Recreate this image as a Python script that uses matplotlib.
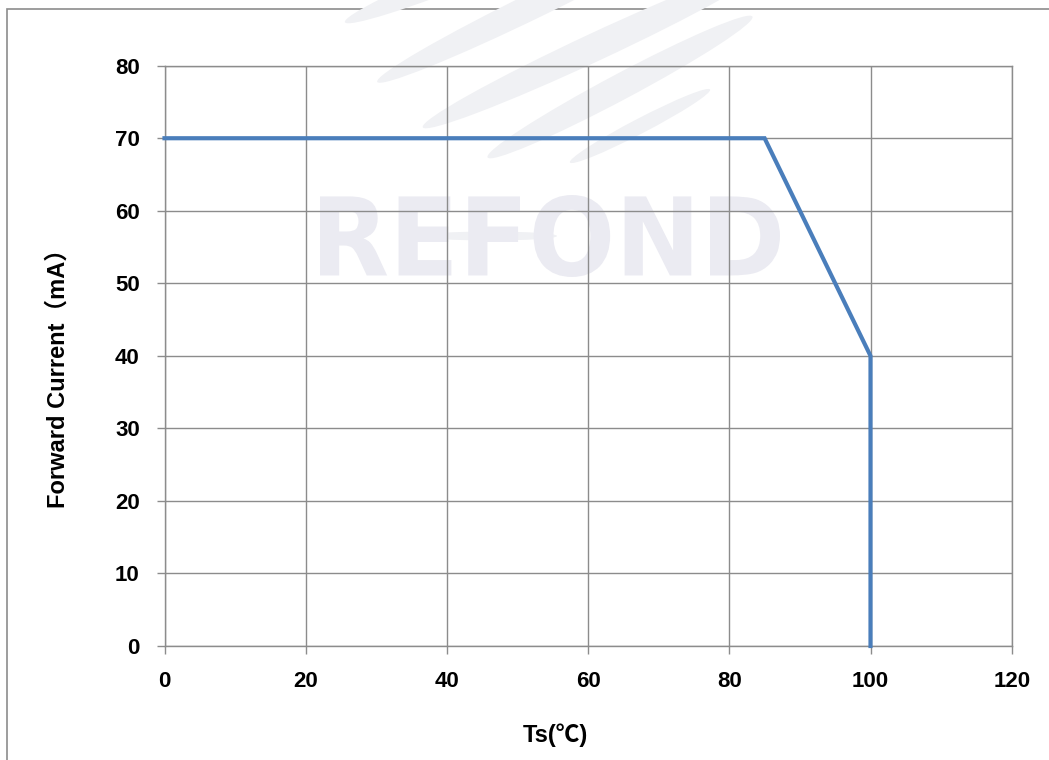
import numpy as np
import matplotlib
matplotlib.use('agg')
import matplotlib.pyplot as plt
from matplotlib.patches import Ellipse, PathPatch, Rectangle
from matplotlib.textpath import TextPath
from matplotlib.font_manager import FontProperties
from matplotlib.transforms import Affine2D

# derating curve data
temps = [0, 85, 100, 100]
currents = [70, 70, 40, 0]
xticks = [0, 20, 40, 60, 80, 100, 120]
yticks = [0, 10, 20, 30, 40, 50, 60, 70, 80]

fonts = ['Liberation Sans', 'Noto Sans CJK SC', 'DejaVu Sans']
plt.rcParams['font.family'] = fonts
plt.rcParams['font.weight'] = 'bold'
W, H = 1049, 760

fig = plt.figure(figsize=(W / 100, H / 100), dpi=100)

# background layer in pixel coords (y up) for border + watermark
bg = fig.add_axes([0, 0, 1, 1], zorder=0)
bg.set_xlim(0, W)
bg.set_ylim(0, H)
bg.axis('off')
bg.add_patch(Rectangle((7, -20), W + 20, H - 9 + 20, fill=False,
                       edgecolor='#8c8c8c', linewidth=1.2))

# watermark swooshes : (x, y_img, length, thickness, angle)
swooshes = [(484, -34, 300, 24, 22),
            (539, 3, 360, 26, 26),
            (595, 47, 380, 28, 25),
            (620, 87, 300, 26, 28),
            (640, 126, 158, 15, 27.5),
            (490, 236, 134, 9, 0)]
for cx, cy, ln, th, ang in swooshes:
    bg.add_patch(Ellipse((cx, H - cy), ln, th, angle=ang,
                         facecolor='#f0f1f4', edgecolor='none'))

tp = TextPath((0, 0), 'REFOND', size=100,
              prop=FontProperties(family='DejaVu Sans', weight='bold'))
ext = tp.get_extents()
x0, x1, y0, y1 = 320, 780, H - 277, H - 195
tr = Affine2D().translate(-ext.x0, -ext.y0).scale(
    (x1 - x0) / ext.width, (y1 - y0) / ext.height).translate(x0, y0)
bg.add_patch(PathPatch(tr.transform_path(tp), facecolor='#ebebf2',
                       edgecolor='none'))

# main chart
ax = fig.add_axes([164.5 / W, 114 / H, (1011.7 - 164.5) / W, (646 - 65.7) / H],
                  zorder=1)
ax.patch.set_alpha(0)
ax.plot(temps, currents, color='#4a7ebb', linewidth=3.0, clip_on=False,
        solid_joinstyle='miter', zorder=3)
ax.set_xlim(0, 120)
ax.set_ylim(0, 80)
ax.set_xticks(xticks)
ax.set_yticks(yticks)
ax.grid(True, color='#8c8c8c', linewidth=1.0)
for s in ax.spines.values():
    s.set_color('#8c8c8c')
    s.set_linewidth(1.0)
ax.tick_params(direction='out', length=5.8, width=1.0, color='#8c8c8c',
               labelsize=16, pad=12)

fig.text(58 / W, 1 - 373 / H, 'Forward Current（mA）', rotation=90,
         ha='center', va='center', fontsize=17, fontweight='bold')
fig.text(555 / W, 1 - 735 / H, 'Ts(℃)', ha='center', va='center',
         fontsize=17, fontweight='bold')

fig.savefig('out.png', dpi=100)
